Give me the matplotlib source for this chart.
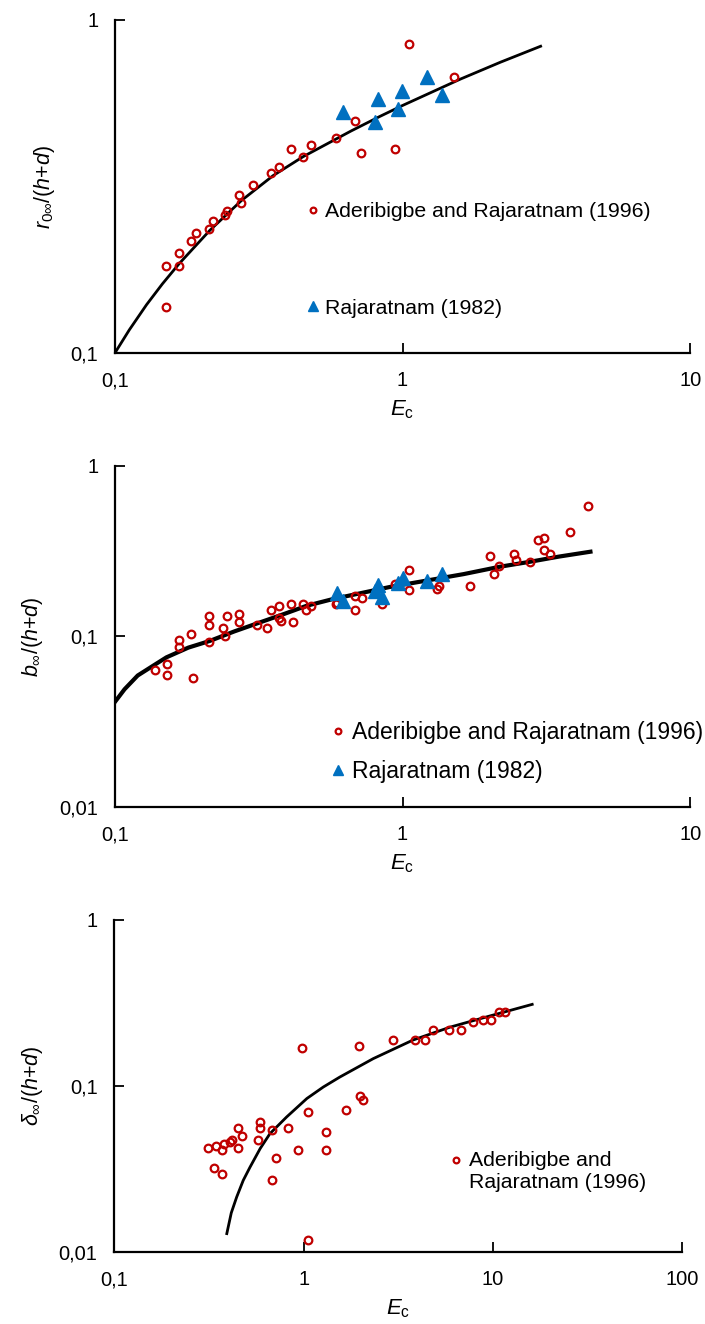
import matplotlib
matplotlib.use("Agg")
import matplotlib.pyplot as plt
from matplotlib.legend_handler import HandlerLine2D
from matplotlib.ticker import FixedLocator, FixedFormatter, NullLocator

plt.rcParams["font.family"] = ["Liberation Sans", "DejaVu Sans"]
plt.rcParams["mathtext.fontset"] = "custom"
plt.rcParams["mathtext.rm"] = "Liberation Sans"
plt.rcParams["mathtext.it"] = "Liberation Sans:italic"
plt.rcParams["mathtext.bf"] = "Liberation Sans:bold"

RED = "#C00000"
BLUE = "#0070C0"

# ---- panel 1: r0/(h+d) ----
r0_ade_x = [0.151, 0.167, 0.167, 0.151, 0.184, 0.191, 0.212, 0.219, 0.241, 0.246,
            0.270, 0.275, 0.302, 0.350, 0.372, 0.410, 0.452, 0.480, 0.585, 0.685,
            0.718, 0.944, 1.057, 1.51]
r0_ade_y = [0.183, 0.200, 0.183, 0.137, 0.217, 0.229, 0.236, 0.249, 0.259, 0.267,
            0.299, 0.282, 0.320, 0.348, 0.362, 0.410, 0.388, 0.422, 0.441, 0.498,
            0.399, 0.410, 0.845, 0.676]
r0_raj_x = [0.621, 0.819, 0.803, 0.993, 0.962, 1.22, 1.37]
r0_raj_y = [0.530, 0.578, 0.495, 0.613, 0.541, 0.672, 0.595]
r0_fit_x = [0.100, 0.1122, 0.1288, 0.1462, 0.1671, 0.2138, 0.2754, 0.3548, 0.4508,
            0.6607, 0.8318, 1.0, 1.585, 2.188, 3.02]
r0_fit_y = [0.100, 0.1173, 0.1396, 0.1612, 0.1853, 0.2335, 0.2870, 0.3409, 0.3885,
            0.4637, 0.5128, 0.5537, 0.6639, 0.7467, 0.834]

# ---- panel 2: b/(h+d) ----
b_ade_x = [0.138, 0.152, 0.152, 0.167, 0.167, 0.184, 0.187, 0.212, 0.212, 0.212,
           0.238, 0.241, 0.246, 0.270, 0.270, 0.311, 0.338, 0.350, 0.372, 0.372,
           0.379, 0.410, 0.417, 0.452, 0.461, 0.480, 0.585, 0.590, 0.685, 0.685,
           0.720, 0.845, 0.944, 1.057, 1.057, 1.318, 1.343, 1.71, 2.01, 2.08,
           2.17, 2.44, 2.48, 2.77, 2.96, 3.11, 3.11, 3.26, 3.81, 4.41]
b_ade_y = [0.0634, 0.0685, 0.0598, 0.0951, 0.0870, 0.1027, 0.0567, 0.131, 0.1175, 0.0922,
           0.1114, 0.100, 0.131, 0.1346, 0.121, 0.1175, 0.1114, 0.142, 0.150, 0.1276,
           0.124, 0.154, 0.121, 0.154, 0.142, 0.150, 0.154, 0.158, 0.172, 0.142,
           0.167, 0.154, 0.202, 0.244, 0.186, 0.191, 0.197, 0.197, 0.295, 0.231,
           0.258, 0.303, 0.279, 0.272, 0.366, 0.376, 0.320, 0.303, 0.408, 0.580]
b_raj_x = [0.593, 0.621, 0.819, 0.802, 0.845, 0.964, 1.0, 1.22, 1.37]
b_raj_y = [0.181, 0.161, 0.200, 0.185, 0.171, 0.206, 0.219, 0.212, 0.232]
b_fit_x = [0.100, 0.108, 0.120, 0.1355, 0.151, 0.180, 0.214, 0.260, 0.319, 0.390,
           0.464, 0.572, 0.700, 0.903, 1.20, 1.63, 2.17, 2.77, 3.50, 4.50]
b_fit_y = [0.0413, 0.049, 0.059, 0.0672, 0.0754, 0.086, 0.0942, 0.107, 0.1208, 0.136,
           0.1513, 0.1656, 0.178, 0.195, 0.212, 0.232, 0.256, 0.274, 0.294, 0.314]

# ---- panel 3: delta/(h+d) ----
d_ade_x = [0.311, 0.336, 0.345, 0.370, 0.370, 0.379, 0.408, 0.420, 0.451, 0.451,
           0.474, 0.574, 0.590, 0.590, 0.682, 0.682, 0.715, 0.826, 0.933, 0.982,
           1.054, 1.054, 1.319, 1.319, 1.68, 1.95, 1.99, 2.05, 2.95, 3.85,
           4.36, 4.82, 5.84, 6.75, 7.83, 8.84, 9.75, 10.8, 11.6]
d_ade_y = [0.0422, 0.0320, 0.0434, 0.0410, 0.0294, 0.0446, 0.0458, 0.0471, 0.0557, 0.0422,
           0.0499, 0.0471, 0.0605, 0.0557, 0.0542, 0.0271, 0.0367, 0.0557, 0.0410, 0.169,
           0.0696, 0.01175, 0.0527, 0.0410, 0.0715, 0.174, 0.0869, 0.0822, 0.189, 0.189,
           0.189, 0.217, 0.217, 0.217, 0.243, 0.249, 0.249, 0.279, 0.279]
d_fit_x = [0.393, 0.415, 0.443, 0.480, 0.521, 0.590, 0.664, 0.813, 1.04, 1.27,
           1.55, 2.33, 3.78, 5.93, 9.75, 16.1]
d_fit_y = [0.0129, 0.0172, 0.0214, 0.0270, 0.0324, 0.0420, 0.0516, 0.065, 0.084, 0.0985,
           0.113, 0.146, 0.189, 0.226, 0.265, 0.310]

LABEL_ADE = "Aderibigbe and Rajaratnam (1996)"
LABEL_RAJ = "Rajaratnam (1982)"


class FirstLineHandler(HandlerLine2D):
    # put the legend marker next to the first line of a two-line label
    def create_artists(self, legend, orig_handle, xdescent, ydescent, width,
                       height, fontsize, trans):
        artists = super().create_artists(legend, orig_handle, xdescent, ydescent,
                                         width, height, fontsize, trans)
        for a in artists:
            a.set_ydata([y + 0.55 * fontsize for y in a.get_ydata()])
        return artists


def style_axes(ax, xticks, xlabels, yticks, ylabels):
    ax.set_xscale("log")
    ax.set_yscale("log")
    ax.set_xlim(xticks[0], xticks[-1])
    ax.set_ylim(yticks[0], yticks[-1])
    for side in ("top", "right"):
        ax.spines[side].set_visible(False)
    for side in ("left", "bottom"):
        ax.spines[side].set_linewidth(1.6)
    ax.xaxis.set_major_locator(FixedLocator(xticks))
    ax.xaxis.set_major_formatter(FixedFormatter(xlabels))
    ax.yaxis.set_major_locator(FixedLocator(yticks))
    ax.yaxis.set_major_formatter(FixedFormatter(ylabels))
    ax.xaxis.set_minor_locator(NullLocator())
    ax.yaxis.set_minor_locator(NullLocator())
    ax.tick_params(direction="in", length=7, width=1.3, labelsize=14.5)
    ax.tick_params(axis="x", pad=13)
    ax.tick_params(axis="y", pad=12)
    ax.set_xlabel(r"$E_\mathrm{c}$", fontsize=16, labelpad=6)


fig = plt.figure(figsize=(7.05, 13.24), dpi=100)
ax1 = fig.add_axes([0.163, 0.7334, 0.816, 0.2515])
ax2 = fig.add_axes([0.163, 0.3905, 0.816, 0.2576])
ax3 = fig.add_axes([0.162, 0.0544, 0.806, 0.2508])

circ = dict(linestyle="none", marker="o", markersize=5.5, markerfacecolor="none",
            markeredgecolor=RED, markeredgewidth=1.6)
tri = dict(linestyle="none", marker="^", markersize=9.5, color=BLUE)

# panel 1
ax1.plot(r0_fit_x, r0_fit_y, color="black", linewidth=2)
h1, = ax1.plot(r0_ade_x, r0_ade_y, label=LABEL_ADE, **circ)
h2, = ax1.plot(r0_raj_x, r0_raj_y, label=LABEL_RAJ, **tri)
style_axes(ax1, [0.1, 1, 10], ["0,1", "1", "10"], [0.1, 1], ["0,1", "1"])
ax1.set_ylabel(r"$r_{0\infty}/(h\mathrm{+}d)$", fontsize=15.5, labelpad=10)
ax1.legend(handles=[h1, h2], loc="center left", bbox_to_anchor=(0.318, 0.28),
           frameon=False, fontsize=15.3, handlelength=0.6, handletextpad=0.3,
           labelspacing=3.65, borderaxespad=0, markerscale=0.75)

# panel 2
ax2.plot(b_fit_x, b_fit_y, color="black", linewidth=3)
h1, = ax2.plot(b_ade_x, b_ade_y, label=LABEL_ADE, **circ)
h2, = ax2.plot(b_raj_x, b_raj_y, label=LABEL_RAJ, **tri)
style_axes(ax2, [0.1, 1, 10], ["0,1", "1", "10"], [0.01, 0.1, 1], ["0,01", "0,1", "1"])
ax2.set_ylabel(r"$b_{\infty}/(h\mathrm{+}d)$", fontsize=15.5, labelpad=10)
ax2.legend(handles=[h1, h2], loc="center left", bbox_to_anchor=(0.36, 0.16),
           frameon=False, fontsize=16.5, handlelength=0.6, handletextpad=0.3,
           labelspacing=0.7, borderaxespad=0, markerscale=0.75)

# panel 3
ax3.plot(d_fit_x, d_fit_y, color="black", linewidth=2)
h1, = ax3.plot(d_ade_x, d_ade_y, label="Aderibigbe and\nRajaratnam (1996)", **circ)
style_axes(ax3, [0.1, 1, 10, 100], ["0,1", "1", "10", "100"], [0.01, 0.1, 1],
           ["0,01", "0,1", "1"])
ax3.set_ylabel(r"$\delta_{\infty}/(h\mathrm{+}d)$", fontsize=15.5, labelpad=10)
ax3.legend(handles=[h1], loc="upper left", bbox_to_anchor=(0.575, 0.33),
           frameon=False, fontsize=15.3, handlelength=0.6, handletextpad=0.3,
           borderaxespad=0, markerscale=0.75,
           handler_map={h1: FirstLineHandler()})

fig.savefig("out.png", dpi=100)
plt.close(fig)
